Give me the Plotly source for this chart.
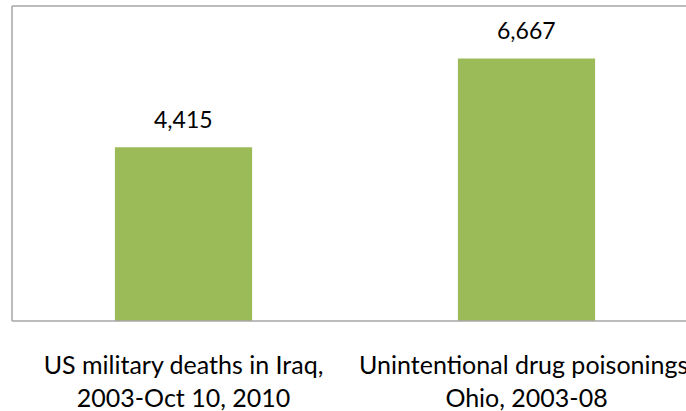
import plotly.graph_objects as go

# Chart data
categories = ["US military deaths in Iraq,<br>2003-Oct 10, 2010",
              "Unintentional drug poisonings,<br>Ohio, 2003-08"]
values = [4415, 6667]
value_labels = [f"{v:,}" for v in values]

bar_color = "#9BBB59"
line_color = "#A6A6A6"
font_family = "Lato"

fig = go.Figure()
fig.add_trace(go.Bar(
    x=[0, 1],
    y=values,
    marker=dict(color=bar_color, line=dict(width=0)),
    width=0.4,
    hoverinfo="skip",
))

# Value labels above each bar
for i, (v, lbl) in enumerate(zip(values, value_labels)):
    fig.add_annotation(x=i, y=v, text=lbl, showarrow=False,
                       xanchor="center", yanchor="bottom", yshift=12,
                       font=dict(family=font_family, size=23, color="#000000"))

# Frame: left, top and bottom edges of the plot area
for x0, y0, x1, y1 in [(0, 0, 0, 1), (0, 1, 1, 1), (0, 0, 1, 0)]:
    fig.add_shape(type="line", xref="paper", yref="paper",
                  x0=x0, y0=y0, x1=x1, y1=y1,
                  line=dict(color=line_color, width=1.5))

fig.update_layout(
    width=686, height=411,
    margin=dict(l=12, r=0, t=6, b=90, autoexpand=False),
    paper_bgcolor="white", plot_bgcolor="white",
    showlegend=False,
    xaxis=dict(
        range=[-0.5, -0.5 + 674 / 343],
        tickmode="array", tickvals=[0, 1], ticktext=categories,
        showgrid=False, zeroline=False, showline=False, ticks="",
        ticklabelstandoff=27,
        ticklabeloverflow="allow",
        automargin=False,
        tickfont=dict(family=font_family, size=25, color="#000000"),
        fixedrange=True,
    ),
    yaxis=dict(
        range=[0, 8000], showgrid=False, zeroline=False,
        showline=False, showticklabels=False, ticks="",
        automargin=False,
        fixedrange=True,
    ),
)

fig.write_html("out.html")
